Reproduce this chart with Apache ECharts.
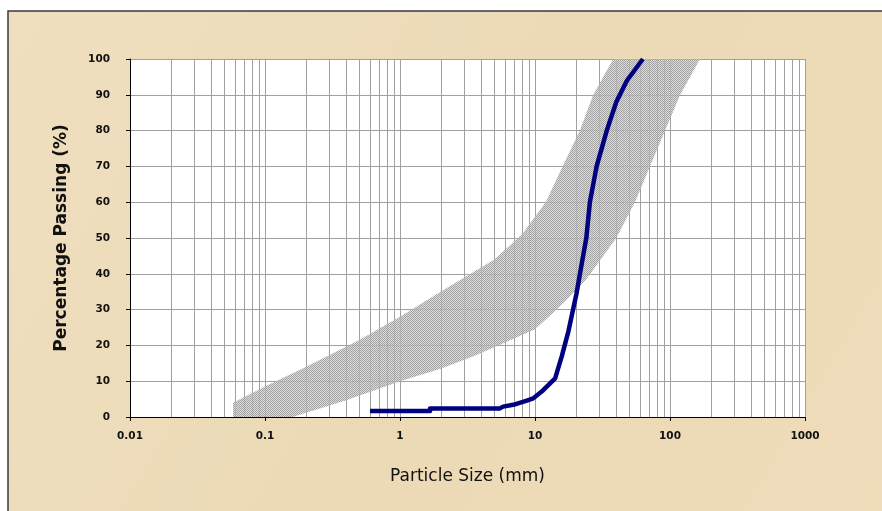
<!DOCTYPE html>
<html>
<head>
<meta charset="utf-8">
<script src="https://cdn.jsdelivr.net/npm/echarts@6/dist/echarts.min.js"></script>
<style>
html,body{margin:0;padding:0;background:#fff;}
#chart{width:882px;height:511px;}
</style>
</head>
<body>
<div id="chart"></div>
<script>
// ---- data ----
const xTickLabels = ['0.01', '0.1', '1', '10', '100', '1000'];
const yTickLabels = ['0', '10', '20', '30', '40', '50', '60', '70', '80', '90', '100'];
const minorGridX = [0.02,0.03,0.04,0.05,0.06,0.07,0.08,0.09,
                    0.2,0.3,0.4,0.5,0.6,0.7,0.8,0.9,
                    2,3,4,5,6,7,8,9,
                    20,30,40,50,60,70,80,90,
                    200,300,400,500,600,700,800,900];
// sample grading curve
const sampleSize = [0.6, 1.67, 1.67, 5.5, 5.8, 6.9, 8.7, 9.7, 11.5, 14.1, 15.8, 17.7, 20.3, 22, 24, 25.5, 28.6, 34, 40, 48, 55, 63];
const samplePass = [1.7, 1.7, 2.4, 2.4, 2.9, 3.4, 4.6, 5.2, 7.5, 10.8, 17, 24, 34.5, 42, 50, 60, 70, 80, 88, 94, 97, 100];
// envelope: fine (upper-left) limit, bottom to top
const fineLimitSize = [0.058, 0.058, 0.1, 0.2, 0.5, 1, 2, 5, 8, 12, 16, 21.5, 27, 38];
const fineLimitPass = [0, 4, 8.5, 14, 21.5, 28, 35, 44, 51, 60, 70, 80, 90, 100];
// envelope: coarse (lower-right) limit, bottom to top
const coarseLimitSize = [0.16, 0.4, 1, 2, 3.5, 5, 10, 13.5, 17.5, 24, 32, 40, 55, 71, 92, 119, 167];
const coarseLimitPass = [0, 4.7, 10, 13.5, 17, 19.5, 24.5, 29, 33, 38.5, 45, 50, 60, 70, 80, 90, 100];

// ---- build ----
const samplePts = sampleSize.map((x, i) => [x, samplePass[i]]);
const bandPoly = fineLimitSize.map((x, i) => [x, fineLimitPass[i]])
  .concat(coarseLimitSize.map((x, i) => [x, coarseLimitPass[i]]).reverse());

const pat = document.createElement('canvas');
pat.width = 2; pat.height = 2;
const pctx = pat.getContext('2d');
pctx.fillStyle = '#a2a2a2';
pctx.fillRect(0, 0, 1, 1);
pctx.fillRect(1, 1, 1, 1);
pctx.fillStyle = 'rgba(205,205,205,0.7)';
pctx.fillRect(1, 0, 1, 1);
pctx.fillRect(0, 1, 1, 1);

function fmtX(v) {
  for (const s of xTickLabels) {
    if (Math.abs(Math.log10(v) - Math.log10(parseFloat(s))) < 1e-6) return s;
  }
  return '';
}

const chart = echarts.init(document.getElementById('chart'), null, {renderer: 'canvas'});
const tickFont = {fontFamily: 'DejaVu Sans', fontWeight: 'bold', fontSize: 10.5, color: '#111'};
chart.setOption({
  animation: false,
  backgroundColor: '#ffffff',
  graphic: [{
    type: 'rect', z: -10, silent: true,
    shape: {x: 8, y: 11, width: 890, height: 520},
    style: {
      fill: new echarts.graphic.LinearGradient(0, 0, 1, 1, [
        {offset: 0, color: '#efdfbf'},
        {offset: 0.5, color: '#ecdab6'},
        {offset: 1, color: '#eedcba'}
      ]),
      stroke: '#3a3a3a', lineWidth: 1.5
    }
  }],
  grid: {left: 130, right: 77, top: 59, bottom: 94, show: true, backgroundColor: '#ffffff', borderWidth: 0},
  xAxis: {
    type: 'log', logBase: 10, min: 0.01, max: 1000,
    name: 'Particle Size (mm)', nameLocation: 'middle', nameGap: 51,
    nameTextStyle: {fontFamily: 'DejaVu Sans', fontSize: 17, color: '#111'},
    axisLine: {show: true, lineStyle: {color: '#000', width: 1}},
    axisTick: {show: true, inside: false, length: 4, lineStyle: {color: '#000'}},
    axisLabel: Object.assign({margin: 14, formatter: fmtX}, tickFont),
    splitLine: {show: true, lineStyle: {color: '#a0a0a0', width: 1}},
    minorTick: {show: false}, minorSplitLine: {show: false}
  },
  yAxis: {
    type: 'value', min: 0, max: 100, interval: 10,
    name: 'Percentage Passing (%)', nameLocation: 'middle', nameGap: 60,
    nameTextStyle: {fontFamily: 'DejaVu Sans', fontWeight: 'bold', fontSize: 17, color: '#111'},
    axisLine: {show: true, lineStyle: {color: '#000', width: 1}},
    axisTick: {show: true, inside: false, length: 4, lineStyle: {color: '#000'}},
    axisLabel: Object.assign({margin: 20, formatter: (v) => yTickLabels[Math.round(v / 10)]}, tickFont),
    splitLine: {show: true, lineStyle: {color: '#a0a0a0', width: 1}}
  },
  series: [
    {
      type: 'custom', z: 1, silent: true,
      data: minorGridX.map(v => [v, 0]),
      renderItem: function (params, api) {
        const v = api.value(0);
        const p0 = api.coord([v, 0]);
        const p1 = api.coord([v, 100]);
        return {type: 'line', shape: {x1: Math.round(p0[0]) + 0.5, y1: p0[1], x2: Math.round(p1[0]) + 0.5, y2: p1[1]},
                style: {stroke: '#a0a0a0', lineWidth: 1}};
      }
    },
    {
      type: 'custom', z: 2, silent: true,
      data: bandPoly,
      renderItem: function (params, api) {
        if (params.dataIndex !== 0) return null;
        const pts = bandPoly.map(p => api.coord(p));
        return {type: 'polygon', shape: {points: pts},
                style: {fill: {image: pat, repeat: 'repeat'}, stroke: null}};
      }
    },
    {
      type: 'line', z: 3, data: samplePts, showSymbol: false, symbol: 'none',
      lineStyle: {color: '#000080', width: 4.5, join: 'round', cap: 'butt'}
    }
  ]
});
</script>
</body>
</html>
